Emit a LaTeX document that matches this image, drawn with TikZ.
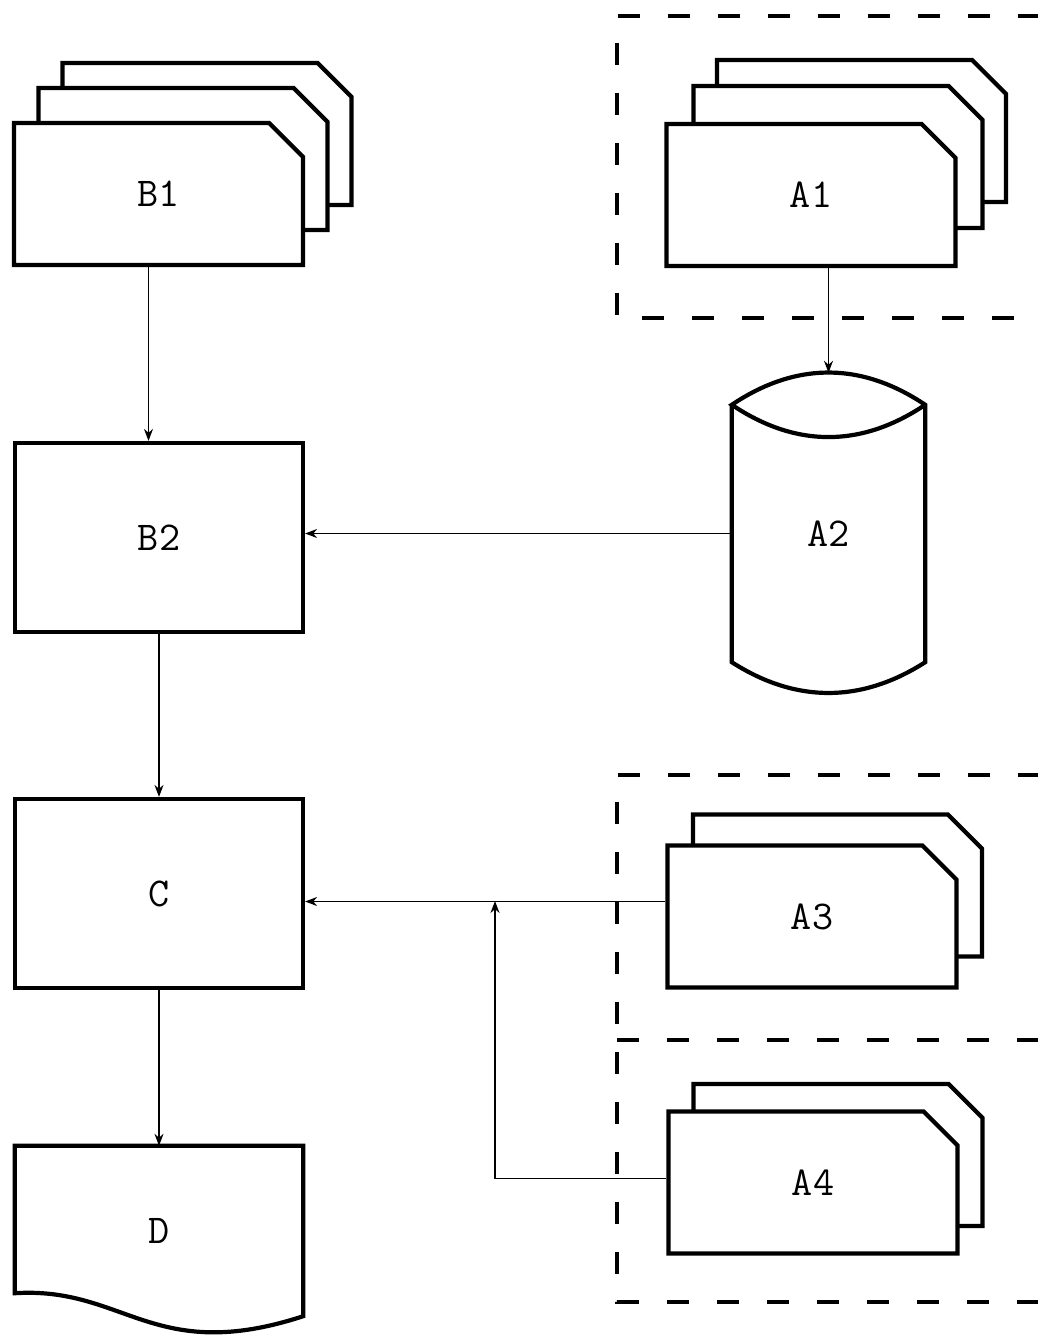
\documentclass[tikz,border=0pt]{standalone}
\usepackage{tikz}
\usetikzlibrary{arrows.meta,positioning,calc,shapes.misc}

\begin{document}
\begin{tikzpicture}[x=1pt, y=-1pt, >={Stealth[length=12pt,width=9pt]},
    font=\ttfamily\fontsize{41}{48}\selectfont]
  \tikzset{
    card/.style={chamfered rectangle, chamfered rectangle corners=north east,
      chamfered rectangle xsep=27pt, chamfered rectangle ysep=28pt,
      draw, fill=white, line width=4.2pt, inner sep=0pt,
      minimum width=289pt, minimum height=142pt},
    proc/.style={rectangle, draw, line width=4.2pt,
      minimum width=288pt, minimum height=189pt},
    flow/.style={line width=1.6pt},
    group/.style={line width=3.4pt, dash pattern=on 22pt off 28pt}
  }
  \useasboundingbox (0,0) rectangle (1038,1336);

  % dashed groups (open to the right)
  \draw[group] (1040,16) -- (617,16) -- (617,318) -- (1040,318);
  \draw[group] (1040,775) -- (617,775) -- (617,1302) -- (1040,1302);
  \draw[group] (617,1040) -- (1040,1040);

  % card stacks
  \node[card] (b1back) at (207,134) {\phantom{B1}};
  \node[card] (b1mid) at (183,159) {\phantom{B1}};
  \node[card] (b1) at (158.5,194) {B1};

  \node[card] (a1back) at (861.5,131) {\phantom{A1}};
  \node[card] (a1mid) at (838,157) {\phantom{A1}};
  \node[card] (a1) at (811,195) {A1};

  \node[card] (a3back) at (837.5,885.5) {\phantom{A3}};
  \node[card] (a3) at (812,916.5) {A3};

  \node[card] (a4back) at (838,1155) {\phantom{A4}};
  \node[card] (a4) at (813,1182.5) {A4};

  % process boxes
  \node[proc] (b2) at (159,537.5) {B2};
  \node[proc] (c) at (159,893.5) {C};

  % drum A2
  \node[minimum width=193pt, minimum height=257pt] (a2) at (828.5,533.5) {A2};
  \draw[line width=4.2pt] (a2.north west) -- (a2.south west)
      .. controls ($(a2.south west)+(64,41)$) and ($(a2.south east)+(-64,41)$) .. (a2.south east)
      -- (a2.north east)
      .. controls ($(a2.north east)+(-64,-43)$) and ($(a2.north west)+(64,-43)$) .. (a2.north west)
      .. controls ($(a2.north west)+(64,43)$) and ($(a2.north east)+(-64,43)$) .. (a2.north east);
  \coordinate (a2top) at ($(a2.north)+(0,-32)$);

  % document D
  \node[minimum width=288pt, minimum height=170pt] (d) at (159,1231) {D};
  \draw[line width=4.2pt] (d.north west) -- ($(d.south west)+(0,-23)$)
      .. controls ($(d.south west)+(110,-30)$) and ($(d.south east)+(-150,49)$) .. (d.south east)
      -- (d.north east) -- cycle;

  % flow lines
  \draw[flow,->] ([xshift=-10pt]b1.south) -- ([xshift=-10pt]b1.south |- b2.north);
  \draw[flow,->] (b2.south) -- (c.north);
  \draw[flow,->] (c.south) -- (d.north);
  \draw[flow,->] (a1.south -| a2top) -- (a2top);
  \draw[flow,->] (a2.west) -- (a2.west -| b2.east);
  \draw[flow,->] ([yshift=15pt]a3.west) -- ([yshift=15pt]a3.west -| c.east);
  \coordinate (jn) at (495,901);
  \draw[flow,->] ([yshift=4pt]a4.west) -| (jn);
\end{tikzpicture}
\end{document}
